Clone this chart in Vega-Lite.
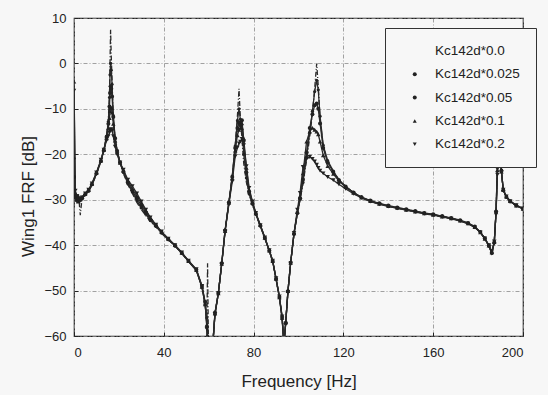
{
  "$schema": "https://vega.github.io/schema/vega-lite/v6.json",
  "width": 449,
  "height": 318,
  "autosize": {"type": "none"},
  "padding": {"left": 74, "top": 18, "right": 25, "bottom": 59},
  "background": "#f7f7f7",
  "config": {
    "view": {"stroke": "#222", "strokeWidth": 1.2, "fill": "#f7f7f7"},
    "font": "Liberation Sans",
    "axis": {
      "domain": false,
      "grid": true,
      "gridColor": "#8a8a8a",
      "gridDash": [4, 2, 1, 2],
      "gridWidth": 0.8,
      "tickColor": "#222",
      "tickSize": -4,
      "labelFont": "Liberation Sans",
      "labelFontSize": 13,
      "labelColor": "#222",
      "titleFont": "Liberation Sans",
      "titleFontSize": 17,
      "titleFontWeight": "normal",
      "titleColor": "#222"
    }
  },
  "data": {
    "values": [
      {"f": 0, "a": -25.3, "b": -20.9, "c": -25, "d": -4, "e": -6},
      {"f": 0.6, "a": -30, "b": -29, "c": -29.5, "d": -28.5, "e": -28},
      {"f": 1.2, "a": -30.5, "b": -29.6, "c": -29.2, "d": -30, "e": -29.2},
      {"f": 2, "a": -28.8, "b": -30, "c": -29.6, "d": -30.4, "e": -30},
      {"f": 2.8, "a": -33.4, "b": -30.2, "c": -30, "d": -29.6, "e": -29.8},
      {"f": 3.6, "a": -29.6, "b": -29.8, "c": -29.7, "d": -29.4, "e": -29.5},
      {"f": 5, "a": -29, "b": -28.9, "c": -28.8, "d": -28.7, "e": -28.6},
      {"f": 6.5, "a": -28.2, "b": -28.1, "c": -28, "d": -27.9, "e": -27.8},
      {"f": 8, "a": -26.8, "b": -26.7, "c": -26.6, "d": -26.5, "e": -26.4},
      {"f": 10, "a": -24.4, "b": -24.3, "c": -24.2, "d": -24.1, "e": -24},
      {"f": 12, "a": -21.6, "b": -21.5, "c": -21.5, "d": -21.4, "e": -21.2},
      {"f": 13.3, "a": -19.2, "b": -19.2, "c": -19.1, "d": -19, "e": -19},
      {"f": 14.5, "a": -16, "b": -16, "c": -16.2, "d": -16.5, "e": -17},
      {"f": 15.3, "a": -12.5, "b": -12.8, "c": -13.3, "d": -14.2, "e": -16},
      {"f": 15.8, "a": -6.6, "b": -7.5, "c": -9.5, "d": -12, "e": -15.2},
      {"f": 16.05, "a": 0.5, "b": -2.5, "c": -6.5, "d": -10.5, "e": -14.8},
      {"f": 16.3, "a": 7.4, "b": 0, "c": -5, "d": -9.6, "e": -14.6},
      {"f": 16.6, "a": 1.5, "b": -1.5, "c": -5.6, "d": -9.8, "e": -14.5},
      {"f": 16.95, "a": -3.5, "b": -4.6, "c": -7.3, "d": -10.8, "e": -14.8},
      {"f": 17.5, "a": -12.5, "b": -11.5, "c": -11.8, "d": -13.3, "e": -16},
      {"f": 18.3, "a": -16.5, "b": -16.3, "c": -16.5, "d": -17, "e": -18.3},
      {"f": 19.2, "a": -19.2, "b": -19.2, "c": -19.3, "d": -19.6, "e": -20},
      {"f": 20.5, "a": -21.7, "b": -21.8, "c": -21.8, "d": -21.9, "e": -21.8},
      {"f": 22, "a": -24.2, "b": -24, "c": -23.8, "d": -23.6, "e": -23.4},
      {"f": 24, "a": -26.7, "b": -26.5, "c": -26.2, "d": -25.9, "e": -25.6},
      {"f": 26, "a": -28.6, "b": -28.3, "c": -28, "d": -27.6, "e": -27},
      {"f": 28, "a": -30.6, "b": -30.2, "c": -29.7, "d": -29.2, "e": -28.6},
      {"f": 30, "a": -32.2, "b": -31.8, "c": -31.3, "d": -30.8, "e": -30.4},
      {"f": 32, "a": -33.5, "b": -33.2, "c": -32.8, "d": -32.4, "e": -32.2},
      {"f": 34, "a": -34.8, "b": -34.6, "c": -34.3, "d": -34, "e": -33.9},
      {"f": 36.5, "a": -36, "b": -35.9, "c": -35.7, "d": -35.6, "e": -35.5},
      {"f": 39, "a": -37.4, "b": -37.3, "c": -37.2, "d": -37.1, "e": -37},
      {"f": 42, "a": -38.8, "b": -38.8, "c": -38.7, "d": -38.6, "e": -38.6},
      {"f": 45, "a": -40.2, "b": -40.2, "c": -40.1, "d": -40, "e": -40},
      {"f": 48, "a": -41.8, "b": -41.8, "c": -41.7, "d": -41.7, "e": -41.6},
      {"f": 51, "a": -43.6, "b": -43.6, "c": -43.5, "d": -43.5, "e": -43.4},
      {"f": 54.5, "a": -45.5, "b": -45.6, "c": -45.4, "d": -45.5, "e": -45.3},
      {"f": 57, "a": -49.2, "b": -49.3, "c": -49, "d": -49.2, "e": -49},
      {"f": 58.4, "a": -52.8, "b": -53, "c": -52.5, "d": -53, "e": -52.6},
      {"f": 59.2, "a": -57, "b": -56, "c": -58, "d": -57.5, "e": -58.5},
      {"f": 59.5, "a": -44, "b": -60, "c": -62, "d": -62, "e": -62},
      {"f": 59.9, "a": -62, "b": -62, "c": -62, "d": -62, "e": -62},
      {"f": 61.8, "a": -62, "b": -62, "c": -62, "d": -62, "e": -62},
      {"f": 62.8, "a": -55, "b": -55.3, "c": -54.8, "d": -55, "e": -55.2},
      {"f": 64.3, "a": -50.6, "b": -50.6, "c": -50.5, "d": -50.6, "e": -50.5},
      {"f": 65.8, "a": -44, "b": -44, "c": -44, "d": -44.1, "e": -44.2},
      {"f": 67.3, "a": -36.7, "b": -36.7, "c": -36.8, "d": -36.9, "e": -37},
      {"f": 69, "a": -30.5, "b": -30.5, "c": -30.6, "d": -30.7, "e": -31},
      {"f": 70.5, "a": -24.8, "b": -24.8, "c": -25, "d": -25.3, "e": -26},
      {"f": 71.8, "a": -18, "b": -18.2, "c": -18.6, "d": -19.2, "e": -20.5},
      {"f": 72.8, "a": -11.5, "b": -12.6, "c": -14.2, "d": -15.8, "e": -18.5},
      {"f": 73.5, "a": -5.6, "b": -10, "c": -13, "d": -14.6, "e": -17.6},
      {"f": 74.1, "a": -12, "b": -12.3, "c": -13.6, "d": -14.2, "e": -17.2},
      {"f": 74.8, "a": -16.5, "b": -14.5, "c": -12.5, "d": -13.2, "e": -16.6},
      {"f": 75.6, "a": -22, "b": -20, "c": -17, "d": -16.5, "e": -18},
      {"f": 76.8, "a": -26.2, "b": -25.2, "c": -24, "d": -23, "e": -22.6},
      {"f": 78, "a": -29, "b": -28.7, "c": -28.3, "d": -27.8, "e": -27.4},
      {"f": 79.5, "a": -31.2, "b": -31, "c": -30.8, "d": -30.6, "e": -30.4},
      {"f": 81, "a": -33.3, "b": -33.2, "c": -33.1, "d": -33, "e": -32.9},
      {"f": 83, "a": -35.8, "b": -35.8, "c": -35.7, "d": -35.6, "e": -35.6},
      {"f": 85, "a": -38.5, "b": -38.5, "c": -38.4, "d": -38.4, "e": -38.3},
      {"f": 87, "a": -41.3, "b": -41.3, "c": -41.2, "d": -41.2, "e": -41.1},
      {"f": 88.5, "a": -43.6, "b": -43.6, "c": -43.5, "d": -43.5, "e": -43.4},
      {"f": 90, "a": -47.5, "b": -47.5, "c": -47.4, "d": -47.4, "e": -47.3},
      {"f": 91.5, "a": -51.5, "b": -51.6, "c": -51.4, "d": -51.5, "e": -51.3},
      {"f": 92.7, "a": -56, "b": -56.2, "c": -55.8, "d": -56, "e": -55.7},
      {"f": 93.5, "a": -62, "b": -62, "c": -62, "d": -62, "e": -62},
      {"f": 94.3, "a": -57, "b": -57, "c": -57.2, "d": -57, "e": -57.3},
      {"f": 95.3, "a": -50, "b": -50, "c": -50.2, "d": -50.1, "e": -50.3},
      {"f": 96.5, "a": -43.8, "b": -43.8, "c": -43.9, "d": -43.9, "e": -44},
      {"f": 98, "a": -37.5, "b": -37.5, "c": -37.5, "d": -37.4, "e": -37.3},
      {"f": 99.5, "a": -33, "b": -33, "c": -32.9, "d": -32.7, "e": -32.2},
      {"f": 100.7, "a": -30, "b": -29.9, "c": -29.7, "d": -29.3, "e": -28.5},
      {"f": 102, "a": -26.5, "b": -26.2, "c": -25.6, "d": -24.2, "e": -22.8},
      {"f": 103.6, "a": -21.3, "b": -20.6, "c": -19.6, "d": -17.2, "e": -21},
      {"f": 105, "a": -16.2, "b": -15.2, "c": -14.2, "d": -15, "e": -20.6},
      {"f": 106.2, "a": -11, "b": -10.5, "c": -11.2, "d": -14.2, "e": -21},
      {"f": 107.2, "a": -5.5, "b": -6.2, "c": -9.2, "d": -14.6, "e": -21.6},
      {"f": 108.1, "a": 0, "b": -3.7, "c": -8.8, "d": -15, "e": -22.3},
      {"f": 108.8, "a": -5, "b": -5.8, "c": -10, "d": -15.6, "e": -23},
      {"f": 109.6, "a": -12, "b": -11.6, "c": -13.2, "d": -17.2, "e": -23.6},
      {"f": 111, "a": -18.3, "b": -18, "c": -18.6, "d": -20.2, "e": -24.2},
      {"f": 113, "a": -21.6, "b": -21.4, "c": -21.8, "d": -22.6, "e": -25},
      {"f": 115.5, "a": -23.8, "b": -23.7, "c": -23.9, "d": -24.3, "e": -25.7},
      {"f": 118, "a": -25.6, "b": -25.6, "c": -25.7, "d": -25.9, "e": -26.6},
      {"f": 121, "a": -27.1, "b": -27.1, "c": -27.1, "d": -27.2, "e": -27.6},
      {"f": 124.5, "a": -28.4, "b": -28.4, "c": -28.4, "d": -28.5, "e": -28.7},
      {"f": 128, "a": -29.5, "b": -29.5, "c": -29.4, "d": -29.5, "e": -29.6},
      {"f": 132, "a": -30.3, "b": -30.3, "c": -30.2, "d": -30.3, "e": -30.4},
      {"f": 136, "a": -30.9, "b": -30.9, "c": -30.8, "d": -30.9, "e": -31},
      {"f": 140, "a": -31.4, "b": -31.4, "c": -31.3, "d": -31.4, "e": -31.5},
      {"f": 144, "a": -31.8, "b": -31.8, "c": -31.7, "d": -31.8, "e": -31.9},
      {"f": 148, "a": -32.2, "b": -32.2, "c": -32.1, "d": -32.2, "e": -32.3},
      {"f": 152, "a": -32.6, "b": -32.6, "c": -32.5, "d": -32.6, "e": -32.7},
      {"f": 156, "a": -33, "b": -33, "c": -32.9, "d": -33, "e": -33.1},
      {"f": 160, "a": -33.3, "b": -33.3, "c": -33.2, "d": -33.3, "e": -33.4},
      {"f": 164, "a": -33.7, "b": -33.7, "c": -33.6, "d": -33.7, "e": -33.8},
      {"f": 168, "a": -34.1, "b": -34.1, "c": -34, "d": -34.1, "e": -34.2},
      {"f": 172, "a": -34.6, "b": -34.6, "c": -34.5, "d": -34.6, "e": -34.7},
      {"f": 175.5, "a": -35.2, "b": -35.2, "c": -35.1, "d": -35.2, "e": -35.3},
      {"f": 178.5, "a": -36, "b": -36, "c": -35.9, "d": -36, "e": -36.1},
      {"f": 181, "a": -37.2, "b": -37.2, "c": -37.1, "d": -37.2, "e": -37.2},
      {"f": 183, "a": -38.6, "b": -38.6, "c": -38.5, "d": -38.6, "e": -38.5},
      {"f": 184.8, "a": -40.2, "b": -40.2, "c": -40.1, "d": -40.1, "e": -40},
      {"f": 186.1, "a": -41.8, "b": -41.8, "c": -41.7, "d": -41.6, "e": -41.4},
      {"f": 187.2, "a": -39.5, "b": -39.5, "c": -39.4, "d": -39.3, "e": -39.2},
      {"f": 188, "a": -32.5, "b": -32.5, "c": -32.6, "d": -32.8, "e": -33},
      {"f": 188.6, "a": -22, "b": -22.3, "c": -22.8, "d": -23.5, "e": -24.5},
      {"f": 189.4, "a": -4, "b": -9, "c": -13, "d": -16, "e": -19},
      {"f": 190.4, "a": -23.5, "b": -23.5, "c": -23.6, "d": -23.8, "e": -24},
      {"f": 191.2, "a": -27.9, "b": -27.9, "c": -27.9, "d": -27.8, "e": -27.8},
      {"f": 192.6, "a": -29.4, "b": -29.4, "c": -29.4, "d": -29.3, "e": -29.3},
      {"f": 194.3, "a": -30.4, "b": -30.4, "c": -30.4, "d": -30.3, "e": -30.3},
      {"f": 197, "a": -31.3, "b": -31.3, "c": -31.3, "d": -31.3, "e": -31.2},
      {"f": 200, "a": -32, "b": -32, "c": -32, "d": -32, "e": -31.9}
    ]
  },
  "transform": [{"fold": ["a", "b", "c", "d", "e"], "as": ["s", "v"]}],
  "encoding": {
    "x": {
      "field": "f",
      "type": "quantitative",
      "scale": {"domain": [0, 200], "nice": false},
      "axis": {
        "values": [0, 40, 80, 120, 160, 200],
        "title": "Frequency [Hz]",
        "titleBaseline": "alphabetic",
        "titleY": 50,
        "labelBaseline": "alphabetic",
        "labelPadding": 24.7
      }
    },
    "y": {
      "field": "v",
      "type": "quantitative",
      "scale": {"domain": [-60, 10], "nice": false},
      "axis": {
        "values": [-60, -50, -40, -30, -20, -10, 0, 10],
        "title": "Wing1 FRF [dB]",
        "titleBaseline": "alphabetic",
        "titleX": -41,
        "titleY": 178,
        "labelPadding": 12
      }
    }
  },
  "layer": [
    {
      "mark": {"type": "line", "clip": true, "color": "#2a2a2a", "strokeWidth": 1.3},
      "encoding": {
        "strokeDash": {
          "field": "s",
          "type": "nominal",
          "scale": {"domain": ["a", "b", "c", "d", "e"], "range": [[5, 2, 1, 2], [1, 0], [1, 0], [1, 0], [1, 0]]},
          "legend": null
        }
      }
    },
    {
      "mark": {"type": "point", "clip": true, "filled": true, "color": "#222", "opacity": 1},
      "encoding": {
        "shape": {
          "field": "s",
          "type": "nominal",
          "scale": {"range": ["M0,0Z", "circle", "circle", "triangle-up", "triangle-down"]},
          "legend": {
            "orient": "none",
            "legendX": 311,
            "legendY": 10,
            "title": null,
            "symbolSize": 16,
            "symbolOffset": 7,
            "symbolStrokeColor": "#333",
            "symbolFillColor": "#222",
            "symbolStrokeWidth": 1,
            "labelFont": "Liberation Sans",
            "labelFontSize": 13.5,
            "labelColor": "#222",
            "labelOffset": 13.5,
            "labelExpr": "datum.label == 'a' ? 'Kc142d*0.0' : datum.label == 'b' ? 'Kc142d*0.025' : datum.label == 'c' ? 'Kc142d*0.05' : datum.label == 'd' ? 'Kc142d*0.1' : 'Kc142d*0.2'",
            "fillColor": "#f7f7f7",
            "strokeColor": "#333",
            "padding": 16,
            "rowPadding": 8.4,
            "zindex": 1
          }
        },
        "size": {
          "field": "s",
          "type": "nominal",
          "scale": {"type": "ordinal", "domain": ["a", "b", "c", "d", "e"], "range": [0, 10, 16, 20, 20]},
          "legend": null
        }
      }
    }
  ]
}
